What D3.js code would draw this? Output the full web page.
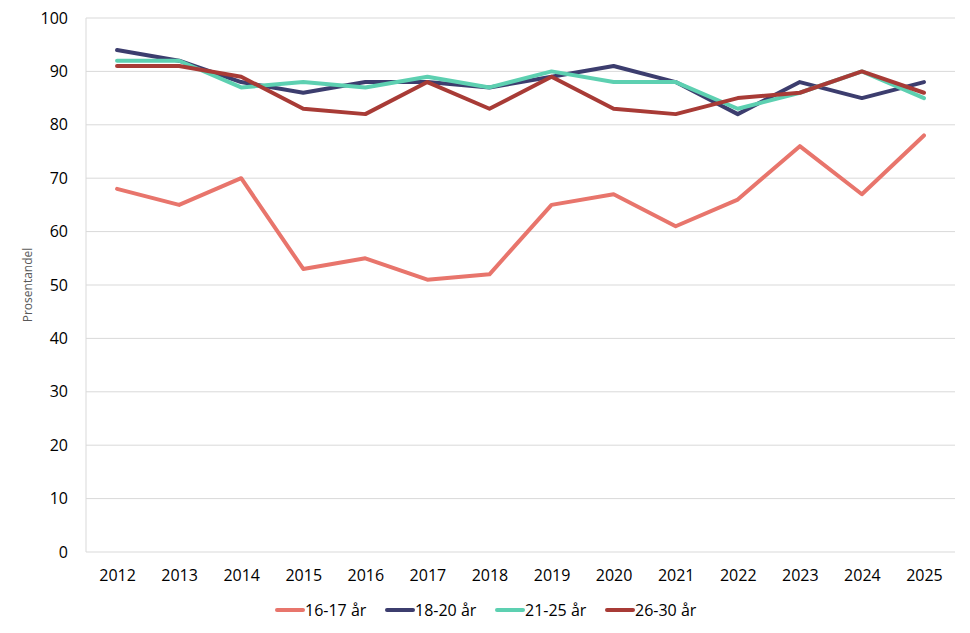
<!DOCTYPE html>
<html>
<head>
<meta charset="utf-8">
<script src="https://cdn.jsdelivr.net/npm/d3@7"></script>
<style>
  body { margin: 0; background: #fff; }
  svg text { font-family: "Open Sans", sans-serif; fill: #000; }
</style>
</head>
<body>
<svg width="970" height="633"></svg>
<script>
const years = ["2012","2013","2014","2015","2016","2017","2018","2019","2020","2021","2022","2023","2024","2025"];
const yTicks = [0,10,20,30,40,50,60,70,80,90,100];
const seriesNames = ["16-17 år","18-20 år","21-25 år","26-30 år"];
const seriesColors = ["#e8756c","#3c3d6e","#5dd0b1","#a83b36"];
const v1617 = [68,65,70,53,55,51,52,65,67,61,66,76,67,78];
const v1820 = [94,92,88,86,88,88,87,89,91,88,82,88,85,88];
const v2125 = [92,92,87,88,87,89,87,90,88,88,83,86,90,85];
const v2630 = [91,91,89,83,82,88,83,89,83,82,85,86,90,86];
const series = [v1617, v1820, v2125, v2630];

const svg = d3.select("svg");
const plotL = 86, plotR = 955, plotT = 18, plotB = 552;

const x = d3.scalePoint().domain(years).range([plotL, plotR]).padding(0.5);
const y = d3.scaleLinear().domain([0, 100]).range([plotB, plotT]);

// gridlines
svg.append("g").selectAll("line")
  .data(yTicks)
  .enter().append("line")
  .attr("x1", plotL).attr("x2", plotR)
  .attr("y1", d => y(d)).attr("y2", d => y(d))
  .attr("stroke", "#d9d9d9").attr("stroke-width", 1);

svg.append("line")
  .attr("x1", plotL).attr("x2", plotL)
  .attr("y1", plotT).attr("y2", plotB)
  .attr("stroke", "#d9d9d9");

// y axis labels
const yAxis = svg.append("g").attr("transform", "translate(" + plotL + ",0)")
  .call(d3.axisLeft(y).tickValues(yTicks).tickSize(0).tickPadding(18));
yAxis.select(".domain").remove();
yAxis.selectAll("text").style("font-size", "16px").attr("fill", "#000");

// x axis labels
const xAxis = svg.append("g").attr("transform", "translate(0," + plotB + ")")
  .call(d3.axisBottom(x).tickSize(0).tickPadding(18));
xAxis.select(".domain").remove();
xAxis.selectAll("text").style("font-size", "16px").attr("fill", "#000");

svg.append("text")
  .attr("transform", "translate(32,285) rotate(-90)")
  .attr("text-anchor", "middle")
  .style("font-size", "12px")
  .style("fill", "#595959")
  .text("Prosentandel");

// lines
const line = d3.line().x((d, i) => x(years[i])).y(d => y(d));
svg.append("g").selectAll("path")
  .data(series)
  .enter().append("path")
  .attr("d", d => line(d))
  .attr("fill", "none")
  .attr("stroke", (d, i) => seriesColors[i])
  .attr("stroke-width", 4)
  .attr("stroke-linejoin", "round")
  .attr("stroke-linecap", "round");

// legend
const legendX = [275, 385, 495, 605];
const legend = svg.append("g").selectAll("g")
  .data(seriesNames)
  .enter().append("g")
  .attr("transform", (d, i) => "translate(" + legendX[i] + ",610)");
legend.append("line")
  .attr("x1", 2).attr("x2", 28)
  .attr("stroke", (d, i) => seriesColors[i])
  .attr("stroke-width", 4)
  .attr("stroke-linecap", "round");
legend.append("text")
  .attr("x", 30).attr("dy", "0.35em")
  .style("font-size", "16px")
  .text(d => d);
</script>
</body>
</html>
